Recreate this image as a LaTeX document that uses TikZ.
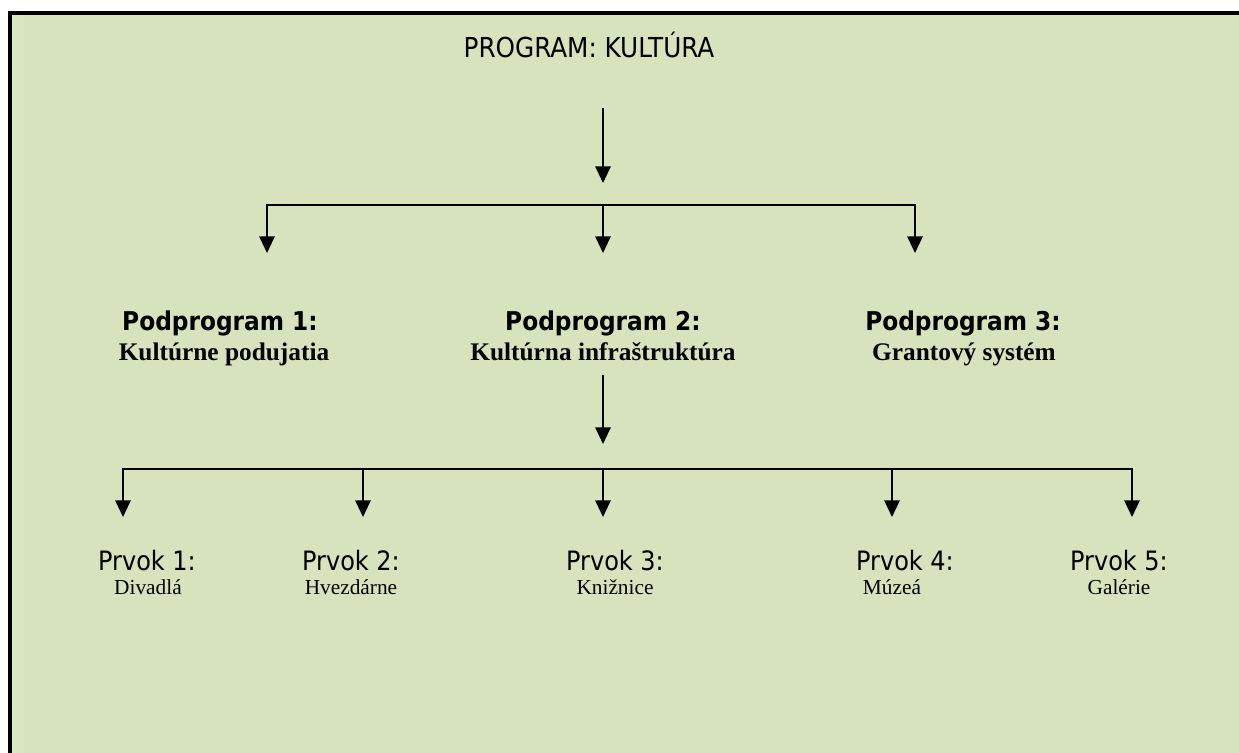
\documentclass[tikz,border=0pt]{standalone}
\usepackage{fontspec}
\setmainfont{Liberation Serif}
\newfontfamily\tah{DejaVu Sans Condensed}
\usetikzlibrary{arrows.meta}
\definecolor{panel}{HTML}{D7E3BC}
\definecolor{paneledge}{HTML}{DAE6C2}
\tikzset{
  conn/.style={line width=1.5pt, draw=black},
  arr/.style={conn, -{Triangle[length=12.5pt,width=11.5pt]}},
  head/.style={inner sep=0pt, anchor=base, font=\tah\fontsize{20.6}{24}\selectfont},
  subhead/.style={inner sep=0pt, anchor=base, font=\tah\bfseries\fontsize{19.4}{23}\selectfont},
  subname/.style={inner sep=0pt, anchor=base, font=\bfseries\fontsize{19}{23}\selectfont},
  item/.style={inner sep=0pt, anchor=base, font=\tah\fontsize{20}{24}\selectfont},
  itemname/.style={inner sep=0pt, anchor=base, font=\fontsize{16}{19}\selectfont},
}
\begin{document}
\begin{tikzpicture}[x=0.75pt, y=-0.75pt]
  \useasboundingbox (0,0) rectangle (1239,753);
  % frame: white page, green panel, black top and left edges
  \fill[white] (0,0) rectangle (1239,753);
  \fill[panel] (8,11) rectangle (1239,753);
  \fill[paneledge] (12,15) rectangle (24,753);
  \fill[black] (8,11) rectangle (1239,15);
  \fill[black] (8,11) rectangle (12,753);

  % titles
  \node[head] (prog) at (589,57) {PROGRAM: KULTÚRA};

  \node[subhead] (s1) at (220,330) {Podprogram 1:};
  \node[subname] (s1n) at (224,360) {Kultúrne podujatia};
  \node[subhead] (s2) at (603,330) {Podprogram 2:};
  \node[subname] (s2n) at (603,360) {Kultúrna infraštruktúra};
  \node[subhead] (s3) at (963,330) {Podprogram 3:};
  \node[subname] (s3n) at (964,360) {Grantový systém};

  \node[item] (e1) at (147,570) {Prvok 1:};
  \node[itemname] (e1n) at (148,594) {Divadlá};
  \node[item] (e2) at (351,570) {Prvok 2:};
  \node[itemname] (e2n) at (351,594) {Hvezdárne};
  \node[item] (e3) at (615,570) {Prvok 3:};
  \node[itemname] (e3n) at (615,594) {Knižnice};
  \node[item] (e4) at (905,570) {Prvok 4:};
  \node[itemname] (e4n) at (892,594) {Múzeá};
  \node[item] (e5) at (1119,570) {Prvok 5:};
  \node[itemname] (e5n) at (1119,594) {Galérie};

  % connector end points
  \coordinate (progout) at (603,108);
  \coordinate (progin) at (603,183);
  \coordinate (bar1) at (603,205);
  \coordinate (to1) at (267,253);
  \coordinate (to2) at (603,253);
  \coordinate (to3) at (915,253);

  \coordinate (s2out) at (603,375);
  \coordinate (s2in) at (603,444);
  \coordinate (bar2) at (603,469);
  \coordinate (te1) at (123,517);
  \coordinate (te2) at (363,517);
  \coordinate (te3) at (603,517);
  \coordinate (te4) at (892,517);
  \coordinate (te5) at (1132,517);

  % program to subprograms
  \draw[arr] (progout) -- (progin);
  \draw[arr] (bar1) -| (to1);
  \draw[arr] (bar1) -| (to3);
  \draw[arr] (bar1) -- (to2);

  % subprogram 2 to its items
  \draw[arr] (s2out) -- (s2in);
  \draw[arr] (bar2) -| (te1);
  \draw[arr] (bar2) -| (te2);
  \draw[arr] (bar2) -- (te3);
  \draw[arr] (bar2) -| (te4);
  \draw[arr] (bar2) -| (te5);
\end{tikzpicture}
\end{document}
